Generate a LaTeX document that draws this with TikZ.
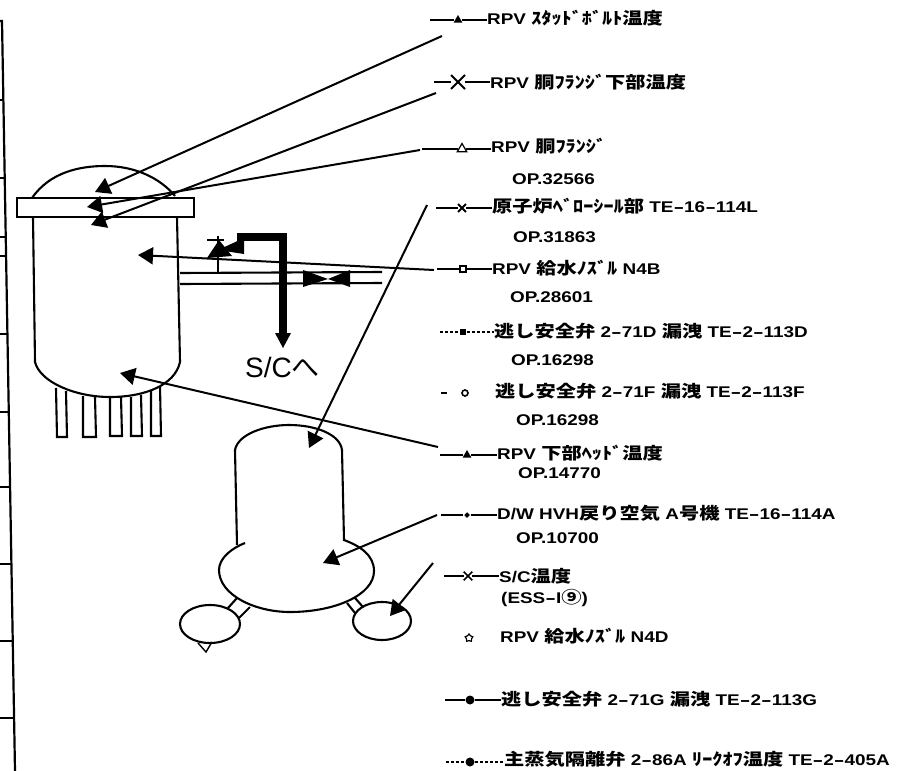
\documentclass[tikz,border=0pt]{standalone}
\usepackage{fontspec}
\setmainfont{Liberation Sans}[FakeStretch=1.22]
\newfontfamily\jpfont{Noto Sans CJK JP Bold}[FakeStretch=1.22]
\newfontfamily\plainfont{Liberation Sans}
\newfontfamily\sjfont{Noto Sans CJK JP}
\usetikzlibrary{arrows.meta,shapes.geometric,shapes.misc}
\newcommand{\jp}[1]{{\fontsize{16.6}{16.6}\selectfont\jpfont #1}}
\newcommand{\dsh}{\scalebox{1.7}[1]{-}}
\tikzset{
  wall/.style={line width=2.1pt},
  ptr/.style={line width=2pt, -{Triangle[length=15pt,width=17pt]}},
  leg/.style={line width=1.5pt},
  lbl/.style={anchor=base west, inner sep=0pt, font=\fontsize{15.5}{15.5}\selectfont\bfseries},
  mark/.style={inner sep=0pt, minimum size=#1, line width=1.2pt},
  mark/.default=10pt
}
\begin{document}
\begin{tikzpicture}[x=1pt, y=-1pt]
\useasboundingbox (0,0) rectangle (916,771);
% Scale at the left edge
    \draw[line width=2.2pt] (0,21) -- (2,21) -- (15,771);
    \foreach \yy/\xx in {100/4,178/5,237/6,256/6,334/7,412/9,487/10,564/11,641/12,718/14}
        \draw[line width=1.2pt] (0,\yy) -- (\xx,\yy);
% Reactor pressure vessel
    \draw[wall] (32,198) .. controls (50,172) and (80,166) .. (105,166) .. controls (135,166) and (160,178) .. (175,196);
    \draw[wall] (17,198) rectangle (194,217);
    \draw[wall] (33,217) -- (35,362) .. controls (40,382) and (75,397) .. (110,397) .. controls (145,397) and (175,385) .. (180,362) -- (177,217);
    \draw[wall] (56,388) -- (57,437) -- (67,437) -- (66,391);
    \draw[wall] (83,396) -- (83,437) -- (96,437) -- (95,397);
    \draw[wall] (110,397) -- (110,436) -- (122,436) -- (121,397);
    \draw[wall] (131,397) -- (131,436) -- (142,436) -- (141,395);
    \draw[wall] (151,390) -- (151,436) -- (161,436) -- (160,386);
% Pipes and valves
    \draw[wall] (180,273) -- (382,272);
    \draw[wall] (180,284) -- (382,283);
    \fill (303,270) -- (328,279) -- (350,270) -- (350,287) -- (328,279) -- (303,287) -- cycle;
    \draw[line width=1.4pt] (218,273) -- (218,236);
    \draw[line width=1.6pt] (207,240) -- (224,240);
    \fill (207,258) -- (219,240) -- (232,256) -- cycle;
    \fill (218,250) -- (244,238) -- (244,254) -- cycle;
    \draw[line width=8pt] (237,237) -- (283,237) -- (283,335);
    \fill (275,333) -- (291,333) -- (283,348) -- cycle;
    \node[inner sep=0pt, anchor=base west, font=\fontsize{28}{28}\selectfont\plainfont] (toSC) at (245,377) {S/C{\sjfont へ}};
% Containment vessel
    \draw[wall] (235,450) .. controls (238,434) and (265,425) .. (289,425) .. controls (315,425) and (340,434) .. (342,450) -- (344,540) .. controls (360,546) and (374,555) .. (374,571) .. controls (374,595) and (335,612) .. (290,612) .. controls (255,612) and (219,595) .. (219,570) .. controls (219,558) and (232,548) .. (245,543);
    \draw[wall] (235,450) -- (237,545);
    \draw[wall] (228,608) -- (237,598);
    \draw[wall] (239,618) -- (250,607);
    \draw[wall] (347,603) -- (355,613);
    \draw[wall] (355,598) -- (363,607);
    \draw[wall] (210,624) ellipse (30 and 19);
    \draw[wall] (382,621) ellipse (29 and 19);
    \draw[line width=1.4pt] (198,643) -- (206,652) -- (212,642);
% Legend texts
    \node[lbl] (stud) at (487,24) {RPV \jp{ｽﾀｯﾄﾞﾎﾞﾙﾄ温度}};
    \node[lbl] (under) at (490,88) {RPV \jp{胴ﾌﾗﾝｼﾞ下部温度}};
    \node[lbl] (flange) at (491,152) {RPV \jp{胴ﾌﾗﾝｼﾞ}};
    \node[lbl] (opa) at (512,184) {OP.32566};
    \node[lbl] (bellows) at (492,212) {\jp{原子炉ﾍﾞﾛｰｼｰﾙ部} TE\dsh 16\dsh 114L};
    \node[lbl] (opb) at (513,242) {OP.31863};
    \node[lbl] (feedb) at (492,274) {RPV \jp{給水ﾉｽﾞﾙ} N4B};
    \node[lbl] (opc) at (510,302) {OP.28601};
    \node[lbl] (srvd) at (494,337) {\jp{逃し安全弁} 2\dsh 71D \jp{漏洩} TE\dsh 2\dsh 113D};
    \node[lbl] (opd) at (511,365) {OP.16298};
    \node[lbl] (srvf) at (495,397) {\jp{逃し安全弁} 2\dsh 71F \jp{漏洩} TE\dsh 2\dsh 113F};
    \node[lbl] (ope) at (516,425) {OP.16298};
    \node[lbl] (head) at (497,459) {RPV \jp{下部ﾍｯﾄﾞ温度}};
    \node[lbl] (opf) at (518,478) {OP.14770};
    \node[lbl] (hvh) at (497,519) {D/W HVH\jp{戻り空気} A\jp{号機} TE\dsh 16\dsh 114A};
    \node[lbl] (opg) at (516,543) {OP.10700};
    \node[lbl] (sc) at (499,582) {S/C\jp{温度}};
    \node[lbl] (ess) at (501,603) {(ESS\dsh I\jp{⑨})};
    \node[lbl] (feedd) at (500,642) {RPV \jp{給水ﾉｽﾞﾙ} N4D};
    \node[lbl] (srvg) at (501,705) {\jp{逃し安全弁} 2\dsh 71G \jp{漏洩} TE\dsh 2\dsh 113G};
    \node[lbl] (msiv) at (504,765) {\jp{主蒸気隔離弁} 2\dsh 86A \jp{ﾘｰｸｵﾌ温度} TE\dsh 2\dsh 405A};
% Legend marks
    \node[mark, regular polygon, regular polygon sides=3, fill=black] (mstud) at (458,20) {};
    \node[mark=12pt, cross out, draw, line width=2pt] (munder) at (458,82) {};
    \node[mark=11pt, regular polygon, regular polygon sides=3, draw] (mflange) at (462,149) {};
    \node[mark=6pt, cross out, draw, line width=1.8pt] (mbellows) at (462,208) {};
    \node[mark=6pt, rectangle, draw, fill=white] (mfeedb) at (463,269) {};
    \node[mark=6pt, rectangle, fill=black] (msrvd) at (463,332) {};
    \node[mark=6pt, circle, draw, line width=1.6pt] (msrvf) at (465,393) {};
    \node[mark, regular polygon, regular polygon sides=3, fill=black] (mhead) at (467,455) {};
    \node[mark=6pt, diamond, fill=black] (mhvh) at (467,515) {};
    \node[mark=7pt, cross out, draw, line width=1.6pt] (msc) at (468,576) {};
    \node[mark=8pt, star, star points=5, draw] (mfeedd) at (469,638) {};
    \node[mark=9pt, circle, fill=black] (msrvg) at (470,700) {};
    \node[mark=9pt, circle, fill=black] (mmsiv) at (470,762) {};
% Legend lines
    \coordinate (lstud) at (430,20);
    \coordinate (lunder) at (434,82);
    \coordinate (lflange) at (422,149);
    \coordinate (lbellows) at (436,208);
    \coordinate (lfeedb) at (437,269);
    \coordinate (lsrvd) at (440,332);
    \coordinate (lsrvf) at (441,393);
    \coordinate (rsrvf) at (447,393);
    \coordinate (lhead) at (440,455);
    \coordinate (lhvh) at (441,515);
    \coordinate (lsc) at (444,576);
    \coordinate (lsrvg) at (445,700);
    \coordinate (lmsiv) at (446,762);
    \draw[leg] (lstud) -- (mstud) -- (lstud -| stud.west);
    \draw[leg] (lunder) -- (munder) -- (lunder -| under.west);
    \draw[leg] (lflange) -- (mflange) -- (lflange -| flange.west);
    \draw[leg] (lbellows) -- (mbellows) -- (lbellows -| bellows.west);
    \draw[leg] (lfeedb) -- (mfeedb) -- (lfeedb -| feedb.west);
    \draw[leg, densely dashed] (lsrvd) -- (msrvd) -- (lsrvd -| srvd.west);
    \draw[leg] (lsrvf) -- (rsrvf);
    \draw[leg] (lhead) -- (mhead) -- (lhead -| head.west);
    \draw[leg] (lhvh) -- (mhvh) -- (lhvh -| hvh.west);
    \draw[leg] (lsc) -- (msc) -- (lsc -| sc.west);
    \draw[leg] (lsrvg) -- (msrvg) -- (lsrvg -| srvg.west);
    \draw[leg, densely dashed] (lmsiv) -- (mmsiv) -- (lmsiv -| msiv.west);
% Pointers into the vessels
    \coordinate (astud) at (442,36);
    \coordinate (tstud) at (95,192);
    \coordinate (aunder) at (436,93);
    \coordinate (tunder) at (91,225);
    \coordinate (aflange) at (420,150);
    \coordinate (tflange) at (87,207);
    \coordinate (abellows) at (427,205);
    \coordinate (tbellows) at (309,448);
    \coordinate (afeedb) at (434,270);
    \coordinate (tfeedb) at (138,255);
    \coordinate (ahead) at (438,447);
    \coordinate (thead) at (120,373);
    \coordinate (ahvh) at (437,515);
    \coordinate (thvh) at (323,563);
    \coordinate (asc) at (433,563);
    \coordinate (tsc) at (390,616);
    \draw[ptr] (astud) -- (tstud);
    \draw[ptr] (aunder) -- (tunder);
    \draw[ptr] (aflange) -- (tflange);
    \draw[ptr] (abellows) -- (tbellows);
    \draw[ptr] (afeedb) -- (tfeedb);
    \draw[ptr] (ahead) -- (thead);
    \draw[ptr] (ahvh) -- (thvh);
    \draw[ptr] (asc) -- (tsc);
\end{tikzpicture}
\end{document}
